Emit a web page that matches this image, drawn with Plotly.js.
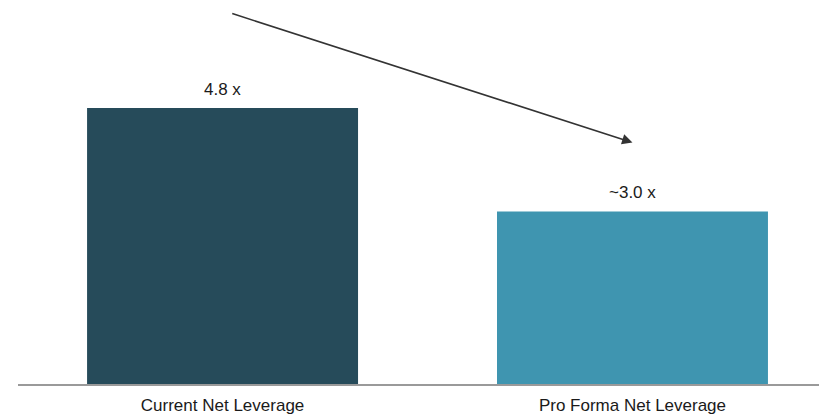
<!DOCTYPE html>
<html>
<head>
<meta charset="utf-8">
<script src="https://cdn.plot.ly/plotly-3.0.1.min.js"></script>
<style>html,body{margin:0;padding:0;background:#fff;}#chart{width:819px;height:417px;}</style>
</head>
<body>
<div id="chart"></div>
<script>
const categories = ["Current Net Leverage", "Pro Forma Net Leverage"];
const values = [4.8, 3.0];
const valueLabels = ["4.8 x", "~3.0 x"];
const barColors = ["#264B5A", "#3F95B0"];
const arrowFrom = [0.02, 6.45];
const arrowTo = [1.0, 4.2];

const trace = {
  type: "bar",
  x: [0, 1],
  y: values,
  width: 0.661,
  marker: {color: barColors, line: {width: 0}},
  hoverinfo: "none"
};

const annotations = values.map((v, i) => ({
  x: i, y: v, xref: "x", yref: "y",
  text: valueLabels[i], showarrow: false,
  yanchor: "bottom", yshift: 7,
  font: {family: "Liberation Sans, Arial, sans-serif", size: 17, color: "#1a1a1a"}
}));
annotations.push({
  x: arrowTo[0], y: arrowTo[1], ax: arrowFrom[0], ay: arrowFrom[1],
  xref: "x", yref: "y", axref: "x", ayref: "y",
  showarrow: true, arrowhead: 2, arrowsize: 1.3, arrowwidth: 1.6,
  arrowcolor: "#333333", text: ""
});

const layout = {
  width: 819, height: 417,
  margin: {l: 18, r: 0, t: 0, b: 33},
  paper_bgcolor: "#ffffff", plot_bgcolor: "#ffffff",
  showlegend: false,
  xaxis: {
    range: [-0.499, 1.455],
    tickmode: "array", tickvals: [0, 1], ticktext: categories,
    showline: true, linecolor: "#9a9a9a", linewidth: 1.5,
    showgrid: false, zeroline: false,
    ticks: "outside", ticklen: 5, tickcolor: "rgba(0,0,0,0)",
    tickfont: {family: "Liberation Sans, Arial, sans-serif", size: 17, color: "#1a1a1a"}
  },
  yaxis: {range: [0, 6.678], visible: false, showgrid: false, zeroline: false},
  annotations: annotations
};

Plotly.newPlot("chart", [trace], layout, {displayModeBar: false, staticPlot: true});
</script>
</body>
</html>
